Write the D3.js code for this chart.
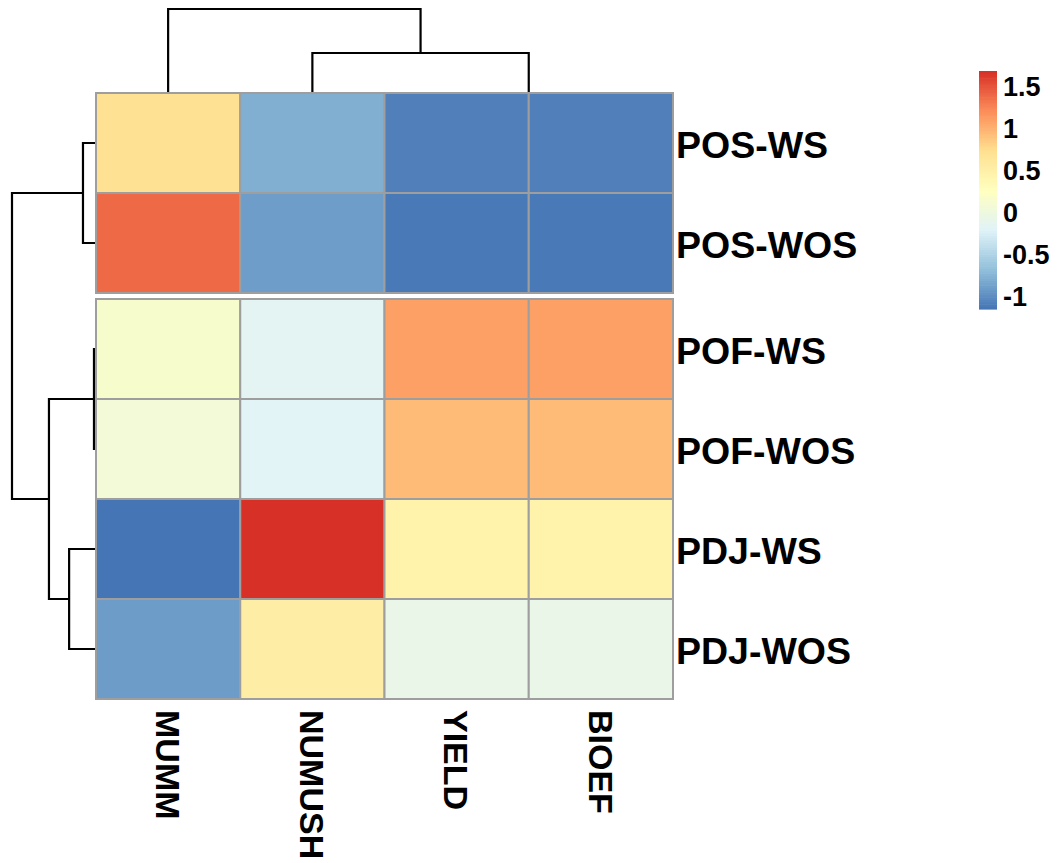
<!DOCTYPE html>
<html>
<head>
<meta charset="utf-8">
<script src="https://cdn.jsdelivr.net/npm/d3@7"></script>
<style>
  html, body { margin: 0; padding: 0; background: #fff; }
  svg { display: block; font-family: "Liberation Sans", Arial, sans-serif; font-weight: bold; }
</style>
</head>
<body>
<svg id="chart" width="1061" height="863"></svg>
<script>
// ---- data ----
const rowLabels = ["POS-WS", "POS-WOS", "POF-WS", "POF-WOS", "PDJ-WS", "PDJ-WOS"];
const colLabels = ["MUMM", "NUMUSH", "YIELD", "BIOEF"];
const valuesPOSWS  = [0.72, -0.78, -1.08, -1.08];
const valuesPOSWOS = [1.39, -0.89, -1.12, -1.12];
const valuesPOFWS  = [0.15, -0.16, 1.10, 1.10];
const valuesPOFWOS = [0.07, -0.18, 0.95, 0.95];
const valuesPDJWS  = [-1.146, 1.68, 0.47, 0.47];
const valuesPDJWOS = [-0.90, 0.53, -0.07, -0.07];
const matrix = [valuesPOSWS, valuesPOSWOS, valuesPOFWS, valuesPOFWOS, valuesPDJWS, valuesPDJWOS];
const legendTicks = [-1, -0.5, 0, 0.5, 1, 1.5];
const palette = ["#4575B4", "#91BFDB", "#E0F3F8", "#FFFFBF", "#FEE090", "#FC8D59", "#D73027"];
// dendrograms: merge heights (relative to root height)
const rowTree = {h: 1, c: [
  {h: 0.155, c: ["POS-WS", "POS-WOS"]},
  {h: 0.56, c: [
    {h: 0.024, c: ["POF-WS", "POF-WOS"]},
    {h: 0.32, c: ["PDJ-WS", "PDJ-WOS"]}
  ]}
]};
const colTree = {h: 1, c: [
  "MUMM",
  {h: 0.476, c: ["NUMUSH", {h: 0.0, c: ["YIELD", "BIOEF"]}]}
]};
const rowGapAfter = 2;

// ---- layout ----
const svg = d3.select("#chart");
const hmLeft = 96, hmRight = 673, hmTop = 93, gap = 6, rowH = 100;

const x = d3.scaleBand().domain(colLabels).range([hmLeft, hmRight]);
const yBase = d3.scaleBand().domain(rowLabels).range([hmTop, hmTop + rowH * rowLabels.length]);
const yPos = r => yBase(r) + (rowLabels.indexOf(r) >= rowGapAfter ? gap : 0);

const allVals = matrix.flat();
const vmin = d3.min(allVals), vmax = d3.max(allVals);
const color = d3.scaleLinear()
  .domain(palette.map((_, i) => vmin + (vmax - vmin) * i / (palette.length - 1)))
  .range(palette)
  .interpolate(d3.interpolateRgb);

// ---- dendrograms (drawn first so the heatmap covers zero-height joins) ----
function layoutTree(node, leafPos) {
  if (typeof node === "string") return {p: leafPos(node), h: 0};
  const kids = node.c.map(k => layoutTree(k, leafPos));
  return {p: (kids[0].p + kids[1].p) / 2, h: node.h, kids};
}
function drawTree(g, t, hToCoord, horizontal) {
  if (!t.kids) return;
  const hc = hToCoord(t.h);
  const [a, b] = t.kids;
  let d;
  if (horizontal) {
    d = `M${hToCoord(a.h)},${a.p}H${hc}V${b.p}H${hToCoord(b.h)}`;
  } else {
    d = `M${a.p},${hToCoord(a.h)}V${hc}H${b.p}V${hToCoord(b.h)}`;
  }
  g.append("path").attr("d", d).attr("fill", "none").attr("stroke", "#000").attr("stroke-width", 2.2);
  t.kids.forEach(k => drawTree(g, k, hToCoord, horizontal));
}
const rowH2x = d3.scaleLinear().domain([0, 1]).range([hmLeft, 12]);
const colH2y = d3.scaleLinear().domain([0, 1]).range([hmTop, 9]);
const rowLayout = layoutTree(rowTree, r => yPos(r) + yBase.bandwidth() / 2);
const colLayout = layoutTree(colTree, c => x(c) + x.bandwidth() / 2);
drawTree(svg.append("g"), rowLayout, rowH2x, true);
drawTree(svg.append("g"), colLayout, colH2y, false);

// ---- cells ----
const cells = [];
rowLabels.forEach((r, i) => colLabels.forEach((c, j) => cells.push({r, c, v: matrix[i][j]})));
svg.append("g").selectAll("rect").data(cells).join("rect")
  .attr("x", d => x(d.c))
  .attr("y", d => yPos(d.r))
  .attr("width", x.bandwidth())
  .attr("height", yBase.bandwidth())
  .attr("fill", d => color(d.v))
  .attr("stroke", "#9E9E9E")
  .attr("stroke-width", 2);

// ---- row labels ----
svg.append("g").selectAll("text").data(rowLabels).join("text")
  .attr("x", hmRight + 3)
  .attr("y", d => yPos(d) + yBase.bandwidth() / 2)
  .attr("dy", "0.4em")
  .attr("font-size", 37.5)
  .attr("fill", "#000")
  .text(d => d);

// ---- column labels ----
svg.append("g").selectAll("text").data(colLabels).join("text")
  .attr("transform", d => `translate(${x(d) + x.bandwidth() / 2},${hmTop + rowH * rowLabels.length + gap + 11}) rotate(90)`)
  .attr("dy", "0.36em")
  .attr("font-size", 34)
  .attr("fill", "#000")
  .text(d => d);

// ---- legend ----
const legTop = 71, legBottom = 309, legX = 979, legW = 18;
const ly = d3.scaleLinear().domain([vmin, vmax]).range([legBottom, legTop]);
const nSteps = 100;
const stepVals = d3.range(nSteps).map(i => vmin + (vmax - vmin) * (i + 0.5) / nSteps);
const stepH = (legBottom - legTop) / nSteps;
svg.append("g").selectAll("rect").data(stepVals).join("rect")
  .attr("x", legX)
  .attr("y", d => ly(d) - stepH / 2)
  .attr("width", legW)
  .attr("height", stepH + 0.6)
  .attr("fill", d => color(d));
svg.append("g").selectAll("text").data(legendTicks).join("text")
  .attr("x", legX + legW + 6)
  .attr("y", d => ly(d))
  .attr("dy", "0.36em")
  .attr("font-size", 27)
  .attr("fill", "#000")
  .text(d => d);
</script>
</body>
</html>
